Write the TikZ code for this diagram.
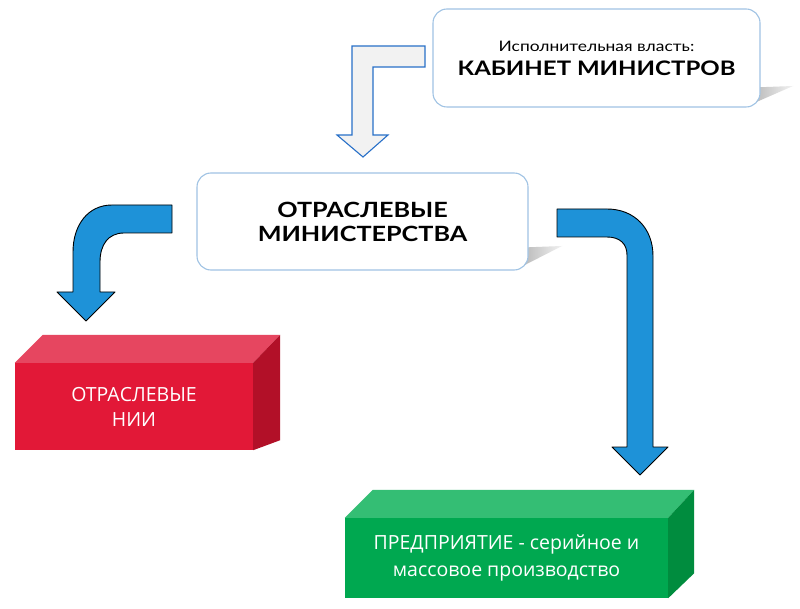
\documentclass[tikz,border=0pt]{standalone}
\usepackage{fontspec}
\setmainfont{Open Sans}
\newfontfamily\headfont[FakeStretch=1.2]{Lato}
\usetikzlibrary{calc}
\definecolor{boxline}{RGB}{160,195,228}
\definecolor{arrblue}{RGB}{30,146,216}
\definecolor{hollowline}{RGB}{40,112,200}
\definecolor{hollowfill}{RGB}{242,242,242}
\definecolor{redfront}{RGB}{226,24,55}
\definecolor{redtop}{RGB}{230,70,96}
\definecolor{redside}{RGB}{178,16,40}
\definecolor{grfront}{RGB}{0,168,80}
\definecolor{grtop}{RGB}{52,190,116}
\definecolor{grside}{RGB}{0,140,62}
\tikzset{
  roundbox/.style={draw=boxline, line width=1.1pt, fill=white, rounded corners=14pt, align=center, inner sep=0pt},
  blockfront/.style={align=center, text=white, inner sep=0pt},
  bluearrow/.style={fill=arrblue, draw=black, line width=0.9pt, line join=round},
  hollowarrow/.style={fill=hollowfill, draw=hollowline, line width=1.1pt, line join=miter},
  boxshadow/.style={left color=gray!70, right color=gray!10}
}
\begin{document}
\begin{tikzpicture}[x=1pt,y=-1pt]
\useasboundingbox (0,0) rectangle (800,609);
\fill[white] (0,0) rectangle (800,609);

% shadows behind the rounded boxes
\shade[boxshadow] (740,88) -- (793,86) -- (745,107) -- cycle;
\shade[boxshadow] (510,248) -- (562,246) -- (515,270) -- cycle;

% rounded boxes
\node[roundbox, minimum width=327pt, minimum height=98pt,
      font=\headfont\fontsize{14.5}{24}\selectfont] (cab) at (596.5,58)
  {Исполнительная власть:\\{\bfseries\fontsize{20}{24}\selectfont КАБИНЕТ МИНИСТРОВ}};
\node[roundbox, minimum width=331pt, minimum height=97pt,
      font=\headfont\bfseries\fontsize{21}{24}\selectfont] (min) at (362.5,221.5)
  {ОТРАСЛЕВЫЕ\\МИНИСТЕРСТВА};

% hollow arrow from the cabinet
\draw[hollowarrow] (425,46) -- (352,46) -- (352,135) -- (337,135) -- (363,157)
  -- (388,135) -- (373,135) -- (373,67) -- (425,67) -- cycle;

% blue arrows
\draw[bluearrow] (172,205) -- (112,205) .. controls (88,205) and (73,225) .. (73,252)
  -- (73,292) -- (57,292) -- (86,321) -- (115,292) -- (100,292) -- (100,262)
  .. controls (100,245) and (108,233) .. (124,233) -- (172,233) -- cycle;
\draw[bluearrow] (557,209) -- (607,209) .. controls (634,209) and (653,228) .. (653,256)
  -- (653,447) -- (668,447) -- (640,475) -- (612,447) -- (627,447) -- (627,255)
  .. controls (627,244) and (620,237) .. (607,237) -- (557,237) -- cycle;

% red block
\node[blockfront, fill=redfront, minimum width=238pt, minimum height=87pt,
      font=\fontsize{19.5}{25}\selectfont] (nii) at (134,406.5)
  {ОТРАСЛЕВЫЕ\\НИИ};
\fill[redtop] (nii.north west) -- ++(28,-28) -- ($(nii.north east)+(27,-28)$) -- (nii.north east) -- cycle;
\fill[redside] (nii.north east) -- ++(27,-28) -- ($(nii.south east)+(27,-10)$) -- (nii.south east) -- cycle;

% green block
\node[blockfront, fill=grfront, minimum width=323pt, minimum height=80pt,
      font=\fontsize{19.5}{27}\selectfont] (ent) at (506.5,558)
  {ПРЕДПРИЯТИЕ - серийное и\\массовое производство};
\fill[grtop] (ent.north west) -- ++(28,-28) -- ($(ent.north east)+(26,-28)$) -- (ent.north east) -- cycle;
\fill[grside] (ent.north east) -- ++(26,-28) -- ($(ent.south east)+(26,-25)$) -- (ent.south east) -- cycle;
\end{tikzpicture}
\end{document}
